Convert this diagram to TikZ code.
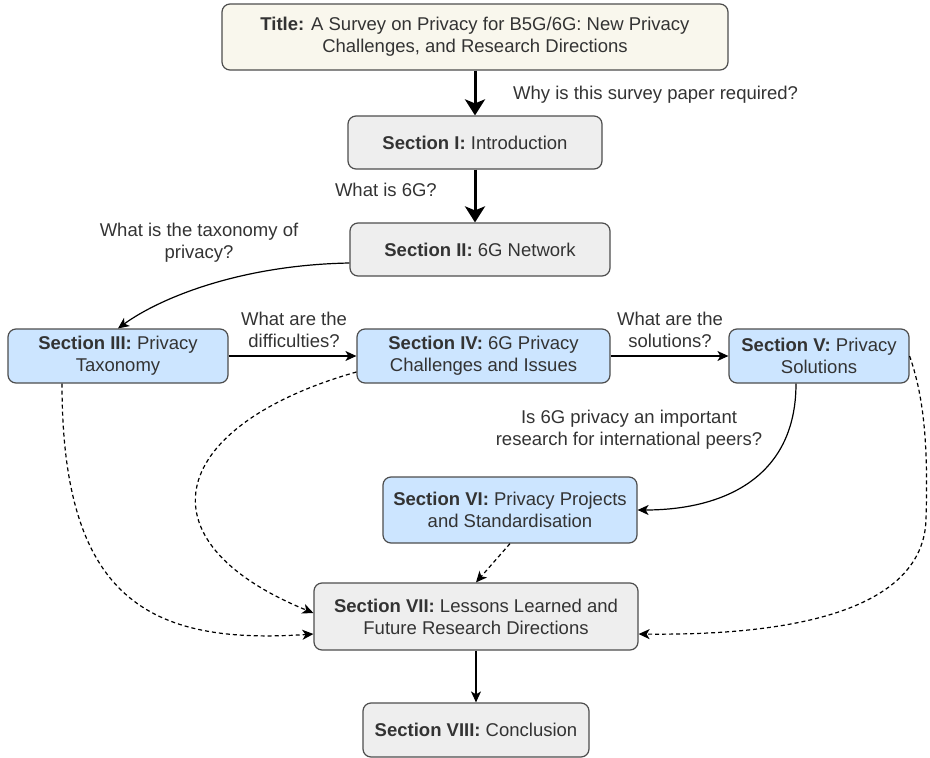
\documentclass[tikz,border=0pt]{standalone}
\usepackage{fontspec}
\setmainfont{Liberation Sans}
\usetikzlibrary{arrows.meta}
\definecolor{txt}{HTML}{333333}
\definecolor{boxline}{HTML}{4D4D4D}
\definecolor{greyfill}{HTML}{EEEEEE}
\definecolor{bluefill}{HTML}{CCE5FF}
\definecolor{creamfill}{HTML}{F9F7ED}
\begin{document}
\begin{tikzpicture}[x=1pt,y=-1pt,
  font=\fontsize{18.5}{22}\selectfont,
  box/.style={draw=boxline, line width=1.2pt, rounded corners=8pt, align=center, text=txt, inner sep=0pt},
  grey/.style={box, fill=greyfill},
  blue/.style={box, fill=bluefill},
  lbl/.style={text=txt, align=center, inner sep=0pt},
  thin/.style={draw=black, line width=1.2pt, -{Stealth[length=11pt,width=10pt,inset=3pt]}},
  thickarr/.style={draw=black, line width=3pt, -{Stealth[length=16pt,width=20pt,inset=4pt]}},
  dsh/.style={thin, dash pattern=on 4pt off 3pt}]
\useasboundingbox (0,0) rectangle (930,758);

\node[box, fill=creamfill, minimum width=506pt, minimum height=66pt] (title) at (475,37)
  {\textbf{Title:} A Survey on Privacy for B5G/6G: New Privacy\\Challenges, and Research Directions};
\node[grey, minimum width=254pt, minimum height=53pt] (s1) at (475,142.5) {\textbf{Section I:} Introduction};
\node[grey, minimum width=260pt, minimum height=53pt] (s2) at (480,249.5) {\textbf{Section II:} 6G Network};
\node[blue, minimum width=220pt, minimum height=54pt] (s3) at (118,356) {\textbf{Section III:} Privacy\\Taxonomy};
\node[blue, minimum width=253pt, minimum height=54pt] (s4) at (483.5,356) {\textbf{Section IV:} 6G Privacy\\Challenges and Issues};
\node[blue, minimum width=180pt, minimum height=54pt] (s5) at (819,356) {\textbf{Section V:} Privacy\\Solutions};
\node[blue, minimum width=254pt, minimum height=66pt] (s6) at (510,510) {\textbf{Section VI:} Privacy Projects\\and Standardisation};
\node[grey, minimum width=324pt, minimum height=67pt] (s7) at (476,616.5) {\textbf{Section VII:} Lessons Learned and\\Future Research Directions};
\node[grey, minimum width=226pt, minimum height=54pt] (s8) at (476,730) {\textbf{Section VIII:} Conclusion};

% labels
\node[lbl, anchor=west] (l1) at (513,95) {Why is this survey paper required?};
\node[lbl, anchor=east] (l2) at (437,190) {What is 6G?};
\node[lbl] (l3) at (199,243) {What is the taxonomy of\\privacy?};
\node[lbl] (l4) at (294,330) {What are the\\difficulties?};
\node[lbl] (l5) at (670,330) {What are the\\solutions?};
\node[lbl] (l6) at (629,430) {Is 6G privacy an important\\research for international peers?};

% connectors
\draw[thickarr] (s1.north |- title.south) -- (s1.north);
\draw[thickarr] (s1.south) -- (s1.south |- s2.north);
\draw[thin] ([yshift=-13.5pt]s2.west) .. controls (240,265) and (160,298) .. (s3.north);
\draw[thin] (s3.east) -- (s4.west);
\draw[thin] (s4.east) -- (s5.west);
\draw[thin] ([xshift=-23pt]s5.south) .. controls (796,480) and (720,510) .. (s6.east);
\draw[dsh] (s6.south) -- (s7.north);
\draw[thin] (s7.south) -- (s8.north);
\draw[dsh] ([xshift=-56pt]s3.south) .. controls (62,600) and (150,645) .. ([yshift=-17.5pt]s7.west);
\draw[dsh] ([yshift=-16pt]s4.west) .. controls (170,425) and (135,540) .. ([yshift=3.5pt]s7.west);
\draw[dsh] (s5.east) .. controls (925,400) and (928,450) .. (926,520)
  .. controls (923,600) and (820,636) .. ([yshift=-17.5pt]s7.east);
\end{tikzpicture}
\end{document}
